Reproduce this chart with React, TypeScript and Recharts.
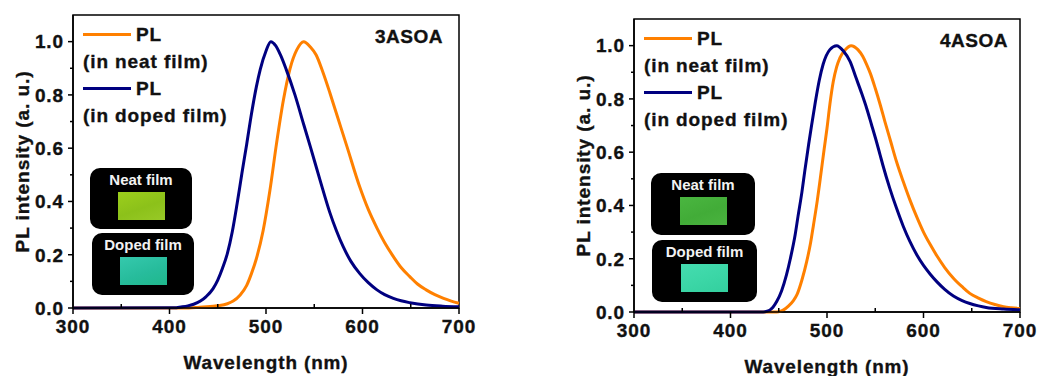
import { Legend, Line, LineChart, ReferenceArea, XAxis, YAxis } from "recharts"

/******************************************************************************
                              Data
******************************************************************************/

const WAVELENGTH_TICKS = [300, 350, 400, 450, 500, 550, 600, 650, 700]
const INTENSITY_TICKS = [0, 0.1, 0.2, 0.3, 0.4, 0.5, 0.6, 0.7, 0.8, 0.9, 1.0]
const SERIES_NAMES = ["PL (in neat film)", "PL (in doped film)"]
const INSET_LABELS = ["Neat film", "Doped film"]
const X_TITLE = "Wavelength (nm)"
const Y_TITLE = "PL intensity (a. u.)"

// [wavelength nm, normalised PL]
const NEAT_3ASOA = [
  [300, 0], [420, 0], [431, 0.003], [442, 0.006], [452, 0.009], [460, 0.016],
  [466, 0.026], [473, 0.048], [480, 0.085], [485, 0.13], [490, 0.185],
  [497, 0.29], [504, 0.44], [511, 0.62], [518, 0.78], [525, 0.9], [532, 0.97],
  [539, 1.0], [546, 0.98], [552, 0.95], [559, 0.885], [566, 0.81], [573, 0.73],
  [584, 0.605], [597, 0.456], [606, 0.37], [615, 0.3], [623, 0.245],
  [632, 0.193], [640, 0.152], [649, 0.118], [657, 0.09], [666, 0.068],
  [675, 0.05], [684, 0.036], [692, 0.026], [700, 0.018],
]

const DOPED_3ASOA = [
  [300, 0], [405, 0.001], [412, 0.004], [419, 0.008], [425, 0.014],
  [432, 0.026], [438, 0.043], [445, 0.072], [450, 0.105], [455, 0.15],
  [460, 0.205], [465, 0.285], [470, 0.39], [475, 0.505], [480, 0.615],
  [485, 0.73], [490, 0.83], [494, 0.895], [500, 0.965], [505, 1.0], [510, 0.985],
  [515, 0.95], [521, 0.895], [530, 0.8], [539, 0.69], [546, 0.605], [556, 0.48],
  [566, 0.36], [573, 0.29], [580, 0.23], [588, 0.175], [597, 0.13],
  [606, 0.095], [615, 0.068], [623, 0.05], [632, 0.036], [640, 0.027],
  [649, 0.02], [666, 0.011], [683, 0.007], [700, 0.005],
]

const NEAT_4ASOA = [
  [300, 0], [448, 0], [452, 0.003], [455, 0.008], [460, 0.022], [465, 0.042],
  [469, 0.066], [474, 0.12], [479, 0.19], [483, 0.26], [486, 0.327],
  [490, 0.42], [493, 0.5], [497, 0.61], [500, 0.69], [503, 0.78],
  [506.5, 0.865], [510, 0.92], [513.5, 0.955], [519, 0.985], [525, 1.0],
  [532, 0.985], [537, 0.96], [541, 0.93], [545, 0.895], [550, 0.84],
  [555, 0.78], [560, 0.715], [566, 0.64], [572, 0.565], [579, 0.49],
  [586, 0.42], [593, 0.357], [600, 0.3], [607, 0.253], [614, 0.21],
  [622, 0.167], [631, 0.127], [640, 0.095], [648, 0.07], [657, 0.052],
  [665, 0.039], [674, 0.028], [683, 0.02], [691, 0.016], [700, 0.013],
]

const DOPED_4ASOA = [
  [300, 0], [434, 0], [438, 0.003], [441, 0.008], [444, 0.018], [448, 0.04],
  [453, 0.08], [458, 0.139], [462, 0.2], [467, 0.29], [470, 0.36], [474, 0.45],
  [477, 0.53], [481, 0.63], [484, 0.7], [488, 0.79], [492, 0.87], [496, 0.93],
  [503, 0.985], [510, 1.0], [517, 0.98], [524, 0.94], [530, 0.88], [536, 0.82],
  [541, 0.766], [546, 0.705], [551, 0.643], [555, 0.59], [558, 0.55],
  [565, 0.465], [572, 0.39], [579, 0.322], [586, 0.264], [593, 0.215],
  [600, 0.175], [607, 0.142], [614, 0.113], [622, 0.085], [631, 0.06],
  [640, 0.043], [648, 0.032], [657, 0.023], [665, 0.017], [683, 0.011],
  [700, 0.008],
]

/******************************************************************************
                              Constants
******************************************************************************/

const FONT = '"Liberation Sans", Arial, Helvetica, sans-serif'
const INK = "#111"
const ORANGE = "#ff8000"
const NAVY = "#000080"
const CHART_HEIGHT = 376
const Y_AXIS_WIDTH = 60

const TEXT_STYLE = {
  fontFamily: FONT,
  fontWeight: 700,
  fontSize: 19,
  letterSpacing: 0.9,
}

// a hairline of ink around the glyphs for the heavy scanned-figure look
const SVG_HEAVY = { stroke: INK, strokeWidth: 0.35 }
const HTML_HEAVY = { WebkitTextStroke: `0.35px ${INK}` }

interface IBox {
  dx: number
  dy: number
  w: number
  h: number
}

interface IPlot {
  left: number
  top: number
  right: number
  bottom: number
}

interface IPanel {
  title: string
  neat: number[][]
  doped: number[][]
  left: number
  width: number
  plot: IPlot
  titleRight: number
  insets: IBox[]
  swatches: string[]
}

const PANELS: IPanel[] = [
  {
    title: "3ASOA",
    neat: NEAT_3ASOA,
    doped: DOPED_3ASOA,
    left: 0,
    width: 500,
    plot: { left: 73, top: 15, right: 459, bottom: 308 },
    titleRight: 16,
    insets: [
      { dx: 17, dy: 153, w: 102, h: 61 },
      { dx: 19, dy: 218, w: 102, h: 62 },
    ],
    swatches: [
      "linear-gradient(160deg, #9ccf1c, #8cc11a 55%, #98c927)",
      "linear-gradient(160deg, #35c9ad, #27bc9c 55%, #1fb88c)",
    ],
  },
  {
    title: "4ASOA",
    neat: NEAT_4ASOA,
    doped: DOPED_4ASOA,
    left: 560,
    width: 478,
    plot: { left: 74, top: 19, right: 460, bottom: 312 },
    titleRight: 12,
    insets: [
      { dx: 17, dy: 154, w: 104, h: 62 },
      { dx: 18, dy: 221, w: 105, h: 62 },
    ],
    swatches: [
      "linear-gradient(160deg, #4ab640, #42ac38 55%, #4ab33f)",
      "linear-gradient(160deg, #45dcb0, #3bd6a6 55%, #33cf9e)",
    ],
  },
]

/******************************************************************************
                              Functions
******************************************************************************/

function toPoints(rows: number[][]) {
  return rows.map(([nm, v]) => ({ nm, v }))
}

function WavelengthTick(props: any) {
  const { x, y, payload } = props
  const major = payload.value % 100 === 0
  return (
    <g>
      <line x1={x} x2={x} y1={y} y2={major ? y + 6 : y - 4} stroke="#000" strokeWidth={1.5} />
      {major && (
        <text x={x} y={y + 25} textAnchor="middle" fill={INK} style={{ ...TEXT_STYLE, ...SVG_HEAVY }}>
          {payload.value}
        </text>
      )}
    </g>
  )
}

function IntensityTick(props: any) {
  const { x, y, payload } = props
  const major = Math.round(payload.value * 10) % 2 === 0
  return (
    <g>
      <line x1={x} x2={major ? x - 5 : x - 3} y1={y} y2={y} stroke="#000" strokeWidth={1.5} />
      {major && (
        <text x={x - 9} y={y} dy="0.36em" textAnchor="end" fill={INK} style={{ ...TEXT_STYLE, ...SVG_HEAVY }}>
          {payload.value.toFixed(1)}
        </text>
      )}
    </g>
  )
}

function XTitle(props: { cx: number; baseline: number }) {
  return (
    <text
      x={props.cx}
      y={props.baseline}
      textAnchor="middle"
      textLength={165}
      lengthAdjust="spacingAndGlyphs"
      fill={INK}
      style={{ ...TEXT_STYLE, ...SVG_HEAVY }}
    >
      {X_TITLE}
    </text>
  )
}

function YTitle(props: { cx: number; cy: number }) {
  const { cx, cy } = props
  return (
    <text
      x={cx}
      y={cy}
      dy="0.36em"
      textAnchor="middle"
      textLength={182}
      lengthAdjust="spacingAndGlyphs"
      transform={`rotate(-90 ${cx} ${cy})`}
      fill={INK}
      style={{ ...TEXT_STYLE, ...SVG_HEAVY }}
    >
      {Y_TITLE}
    </text>
  )
}

function renderLegend(props: any) {
  const entries = [...(props.payload ?? [])].sort(
    (a: any, b: any) => SERIES_NAMES.indexOf(a.value) - SERIES_NAMES.indexOf(b.value),
  )
  return (
    <div
      style={{
        ...TEXT_STYLE,
        ...HTML_HEAVY,
        lineHeight: "27px",
        color: INK,
        whiteSpace: "nowrap",
      }}
    >
      {entries.map((entry: any) => {
        const [head, ...rest] = String(entry.value).split(" ")
        return (
          <div key={entry.value}>
            <div style={{ display: "flex", alignItems: "center" }}>
              <span
                style={{
                  display: "inline-block",
                  width: 48,
                  height: 3,
                  background: entry.color,
                  marginRight: 5,
                }}
              />
              {head}
            </div>
            <div>{rest.join(" ")}</div>
          </div>
        )
      })}
    </div>
  )
}

/******************************************************************************
                              Components
******************************************************************************/

function FilmInset(props: { box: IBox; label: string; swatch: string; plot: IPlot }) {
  const { box, label, swatch, plot } = props
  return (
    <div
      style={{
        position: "absolute",
        left: plot.left + box.dx,
        top: plot.top + box.dy,
        width: box.w,
        height: box.h,
        background: "#000",
        borderRadius: 10,
      }}
    >
      <div
        style={{
          position: "absolute",
          top: 4,
          left: 0,
          width: "100%",
          textAlign: "center",
          fontFamily: FONT,
          fontWeight: 700,
          fontSize: 15,
          lineHeight: 1,
          color: "#f2f2f2",
          whiteSpace: "nowrap",
        }}
      >
        {label}
      </div>
      <div
        style={{
          position: "absolute",
          left: (box.w - 47) / 2,
          top: 24,
          width: 47,
          height: 28,
          background: swatch,
        }}
      />
    </div>
  )
}

function SpectrumPanel(props: { panel: IPanel }) {
  const { panel } = props
  const { plot } = panel
  const xAxisHeight = CHART_HEIGHT - plot.bottom
  return (
    <div
      style={{
        position: "absolute",
        left: panel.left,
        top: 0,
        width: panel.width,
        height: CHART_HEIGHT,
      }}
    >
      <LineChart
        width={panel.width}
        height={CHART_HEIGHT}
        margin={{
          top: plot.top,
          left: plot.left - Y_AXIS_WIDTH,
          right: panel.width - plot.right,
          bottom: 0,
        }}
      >
        <XAxis
          dataKey="nm"
          type="number"
          domain={[300, 700]}
          ticks={WAVELENGTH_TICKS}
          interval={0}
          height={xAxisHeight}
          tickSize={0}
          tickMargin={0}
          tickLine={false}
          axisLine={{ stroke: "#000", strokeWidth: 1.5 }}
          tick={<WavelengthTick />}
          label={<XTitle cx={(plot.left + plot.right) / 2} baseline={plot.bottom + 61} />}
        />
        <YAxis
          type="number"
          domain={[0, 1.1]}
          ticks={INTENSITY_TICKS}
          interval={0}
          width={Y_AXIS_WIDTH}
          tickSize={0}
          tickMargin={0}
          tickLine={false}
          axisLine={{ stroke: "#000", strokeWidth: 1.5 }}
          tick={<IntensityTick />}
          label={<YTitle cx={plot.left - 51} cy={(plot.top + plot.bottom) / 2} />}
        />
        <ReferenceArea
          x1={300}
          x2={700}
          y1={0}
          y2={1.1}
          fill="none"
          stroke="#000"
          strokeWidth={1.5}
          ifOverflow="visible"
        />
        <Legend
          layout="vertical"
          align="center"
          verticalAlign="middle"
          content={renderLegend}
          wrapperStyle={{ left: plot.left + 10, top: plot.top + 6, width: "auto" }}
        />
        <Line
          data={toPoints(panel.neat)}
          dataKey="v"
          name={SERIES_NAMES[0]}
          type="monotone"
          stroke={ORANGE}
          strokeWidth={3}
          dot={false}
          activeDot={false}
          isAnimationActive={false}
        />
        <Line
          data={toPoints(panel.doped)}
          dataKey="v"
          name={SERIES_NAMES[1]}
          type="monotone"
          stroke={NAVY}
          strokeWidth={3}
          dot={false}
          activeDot={false}
          isAnimationActive={false}
        />
      </LineChart>
      <div
        style={{
          position: "absolute",
          right: panel.width - plot.right + panel.titleRight,
          top: plot.top + 12,
          ...TEXT_STYLE,
          ...HTML_HEAVY,
          letterSpacing: 0.5,
          lineHeight: 1,
          color: INK,
        }}
      >
        {panel.title}
      </div>
      {panel.insets.map((box, i) => (
        <FilmInset
          key={INSET_LABELS[i]}
          box={box}
          label={INSET_LABELS[i]}
          swatch={panel.swatches[i]}
          plot={plot}
        />
      ))}
    </div>
  )
}

export default function App() {
  return (
    <div
      style={{
        position: "absolute",
        left: 0,
        top: 0,
        width: 1038,
        height: 376,
        background: "#fff",
        overflow: "hidden",
      }}
    >
      {PANELS.map((panel) => (
        <SpectrumPanel key={panel.title} panel={panel} />
      ))}
    </div>
  )
}
